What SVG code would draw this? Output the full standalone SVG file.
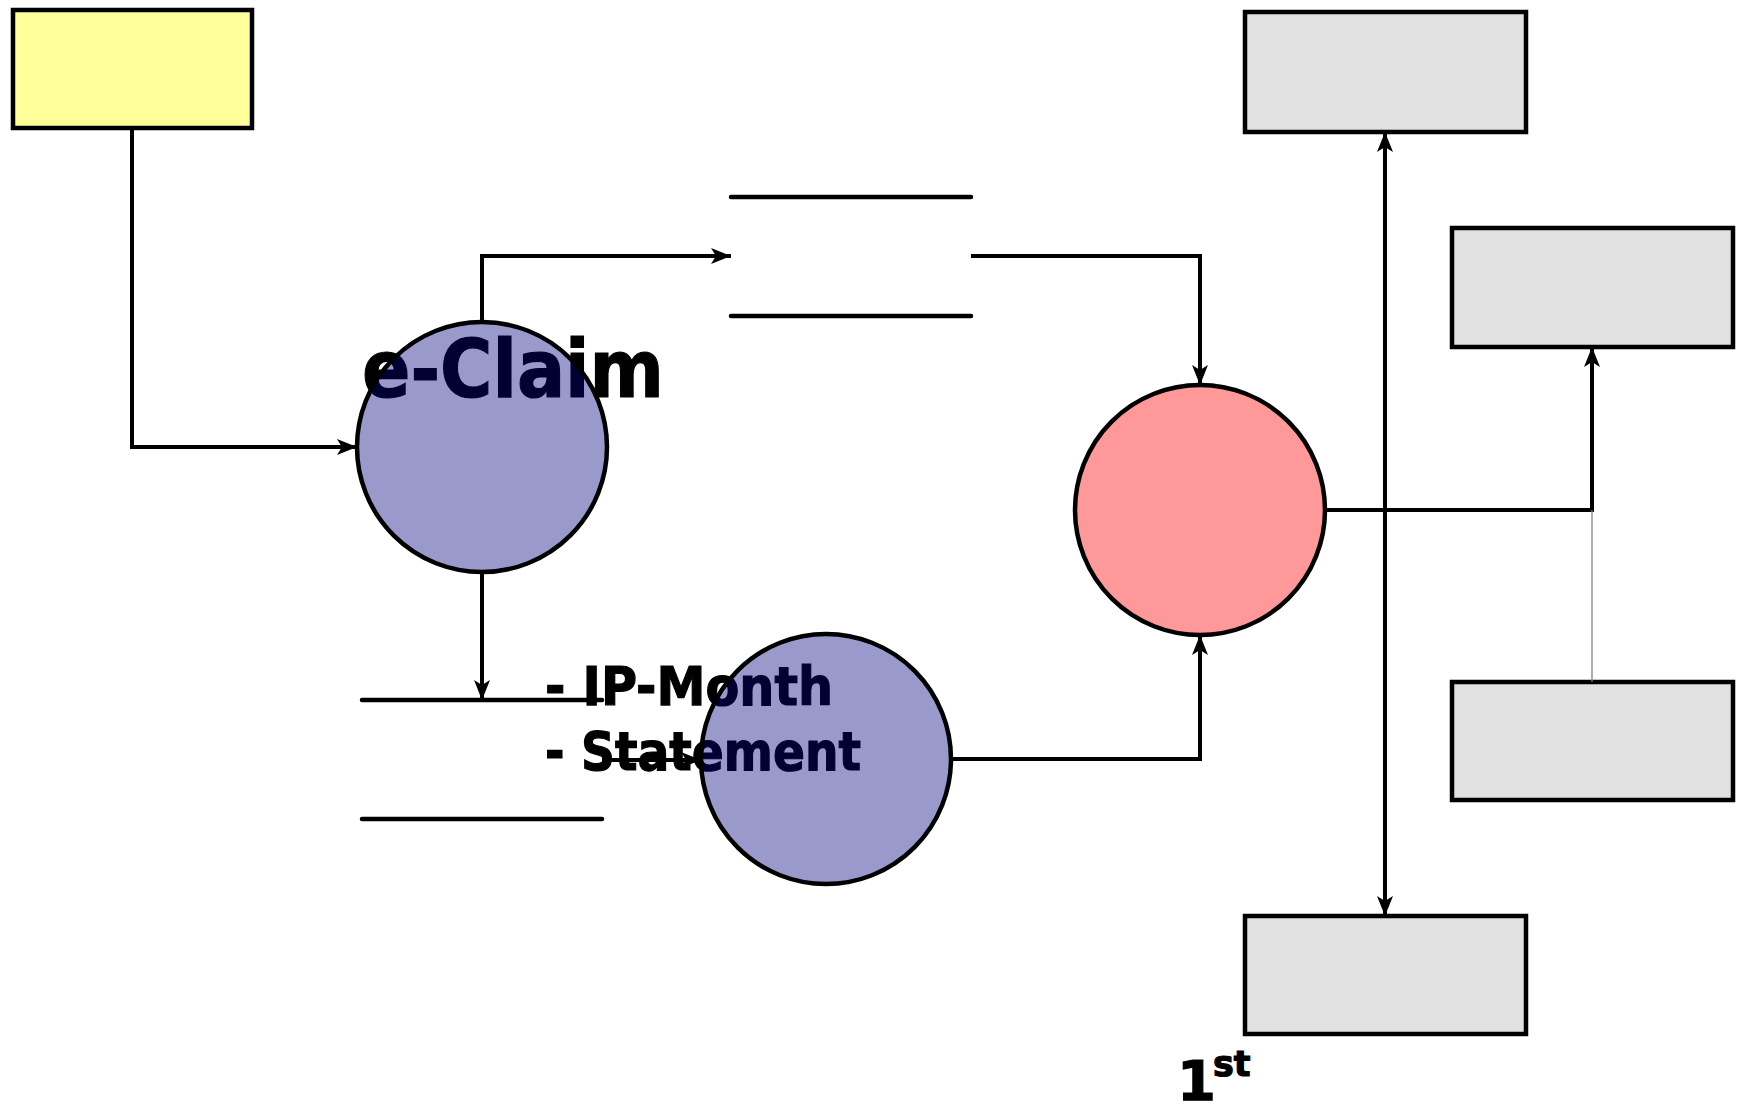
<svg xmlns="http://www.w3.org/2000/svg" width="1738" height="1113" viewBox="0 0 1738 1113">
  <style>
    .box { stroke: #000; stroke-width: 4.5; }
    .ext { fill: #ffff99; }
    .sink { fill: #e1e1e1; }
    .proc { stroke: #000; stroke-width: 4.5; }
    .blue { fill: #000080; fill-opacity: 0.4; }
    .red { fill: #ff0000; fill-opacity: 0.4; }
    .store { stroke: #000; stroke-width: 4.5; stroke-linecap: round; fill: none; }
    .flow { stroke: #000; stroke-width: 4; fill: none; }
    .thin { stroke: #808080; stroke-width: 1.3; fill: none; }
    .lbl { font-family: "DejaVu Sans", Verdana, sans-serif; font-weight: bold; fill: #000; stroke: #000; stroke-width: 1.2; }
  </style>
  <defs>
    <marker id="arrow" viewBox="0 0 20 16" refX="20" refY="8" markerWidth="20" markerHeight="16" markerUnits="userSpaceOnUse" orient="auto-start-reverse">
      <path d="M0,0 L20,8 L0,16 L5,8 Z" fill="#000"/>
    </marker>
  </defs>

  <!-- external entity -->
  <g id="source">
    <rect class="box ext" x="13" y="10" width="239" height="118"/>
  </g>

  <!-- data stores -->
  <g id="store-upper">
    <line class="store" x1="731" y1="197" x2="971" y2="197"/>
    <line class="store" x1="731" y1="316" x2="971" y2="316"/>
  </g>
  <g id="store-lower">
    <line class="store" x1="362" y1="700" x2="602" y2="700"/>
    <line class="store" x1="362" y1="819" x2="602" y2="819"/>
    <text class="lbl" x="545" y="705" font-size="54" textLength="288" lengthAdjust="spacingAndGlyphs">- IP-Month</text>
    <text class="lbl" x="545" y="770" font-size="54" textLength="316" lengthAdjust="spacingAndGlyphs">- Statement</text>
  </g>

  <!-- processes -->
  <g id="proc-eclaim">
    <text class="lbl" x="362" y="397" font-size="81" textLength="302" lengthAdjust="spacingAndGlyphs">e-Claim</text>
    <circle class="proc blue" cx="482" cy="447" r="125"/>
  </g>
  <g id="proc-lower">
    <circle class="proc blue" cx="826" cy="759" r="125"/>
  </g>
  <g id="proc-central">
    <circle class="proc red" cx="1200" cy="510" r="125"/>
  </g>

  <!-- destination boxes -->
  <g id="dest-top">
    <rect class="box sink" x="1245" y="12" width="281" height="120"/>
  </g>
  <g id="dest-right-upper">
    <rect class="box sink" x="1452" y="228" width="281" height="119"/>
  </g>
  <g id="dest-right-lower">
    <rect class="box sink" x="1452" y="682" width="281" height="118"/>
  </g>
  <g id="dest-bottom">
    <rect class="box sink" x="1245" y="916" width="281" height="118"/>
    <text class="lbl" x="1177" y="1100" font-size="56">1</text>
    <text class="lbl" x="1213" y="1076" font-size="35">st</text>
  </g>

  <!-- flows -->
  <g id="connectors">
    <path class="flow" d="M132,128 V447 H357" marker-end="url(#arrow)"/>
    <path class="flow" d="M482,322 V256 H731" marker-end="url(#arrow)"/>
    <path class="flow" d="M971,256 H1200 V385" marker-end="url(#arrow)"/>
    <path class="flow" d="M482,572 V700" marker-end="url(#arrow)"/>
    <path class="flow" d="M602,760 H701" marker-end="url(#arrow)"/>
    <path class="flow" d="M951,759 H1200 V635" marker-end="url(#arrow)"/>
    <path class="flow" d="M1325,510 H1592 V347" marker-end="url(#arrow)"/>
    <path class="flow" d="M1385,132 V916" marker-start="url(#arrow)" marker-end="url(#arrow)"/>
    <path class="thin" d="M1592,510 V682"/>
  </g>
</svg>
